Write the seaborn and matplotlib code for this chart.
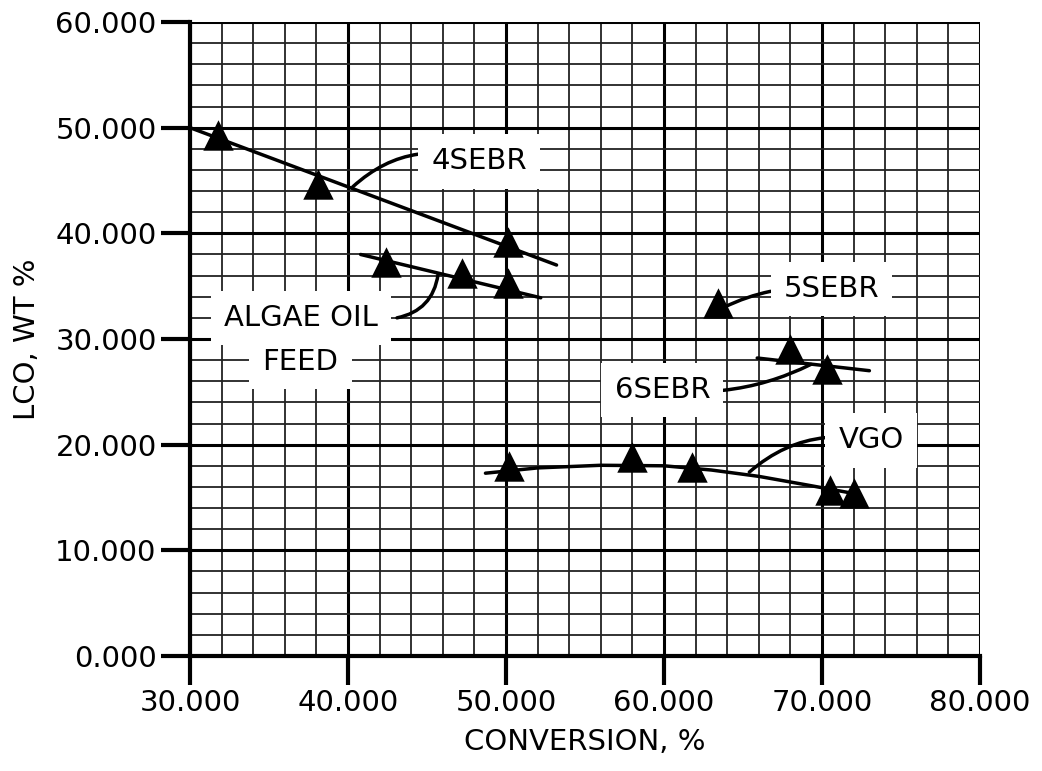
import matplotlib
matplotlib.use("Agg")
import matplotlib.pyplot as plt
import seaborn as sns
import pandas as pd
import numpy as np

# ---- data ----
sebr4_x = [31.8, 38.1, 50.1]
sebr4_y = [49.3, 44.7, 39.2]
algae_x = [42.4, 47.2, 50.1]
algae_y = [37.3, 36.2, 35.3]
sebr5_x = [63.4]
sebr5_y = [33.4]
sebr6_x = [68.0, 70.3]
sebr6_y = [29.1, 27.2]
vgo_x = [50.2, 58.0, 61.8, 70.5, 72.0]
vgo_y = [18.0, 18.8, 17.9, 15.7, 15.4]

# trend lines
trend4_x = [30.0, 53.2]
trend4_y = [50.0, 37.0]
trendA_x = [40.8, 52.2]
trendA_y = [38.0, 33.9]
trend6_x = [65.9, 73.0]
trend6_y = [28.2, 27.0]
trendV_x = [48.7, 52.0, 56.0, 60.0, 63.0, 66.0, 69.0, 72.3]
trendV_y = [17.3, 17.8, 18.05, 18.0, 17.6, 17.0, 16.2, 15.3]

xticks = [30, 40, 50, 60, 70, 80]
yticks = [0, 10, 20, 30, 40, 50, 60]

sns.set_theme(style="white")
plt.rcParams['font.family'] = ['DejaVu Sans']
plt.rcParams['text.color'] = 'black'

fig = plt.figure(figsize=(10.42, 7.71), dpi=100)
ax = fig.add_axes([190/1042, 1-656/771, 790/1042, 634/771])

pts = pd.DataFrame({
    "x": sebr4_x + algae_x + sebr5_x + sebr6_x + vgo_x,
    "y": sebr4_y + algae_y + sebr5_y + sebr6_y + vgo_y,
})
trends = pd.concat([
    pd.DataFrame({"x": trend4_x, "y": trend4_y, "g": "4SEBR"}),
    pd.DataFrame({"x": trendA_x, "y": trendA_y, "g": "ALGAE"}),
    pd.DataFrame({"x": trend6_x, "y": trend6_y, "g": "6SEBR"}),
    pd.DataFrame({"x": trendV_x, "y": trendV_y, "g": "VGO"}),
])

ax.set_xlim(30, 80)
ax.set_ylim(0, 60)
ax.set_xticks(xticks)
ax.set_yticks(yticks)
ax.set_xticks(np.arange(30, 81, 2), minor=True)
ax.set_yticks(np.arange(0, 61, 2), minor=True)
ax.grid(which="major", color="black", lw=2.2, zorder=0)
ax.grid(which="minor", color="#222222", lw=1.3, zorder=0)
ax.set_axisbelow(True)

sns.lineplot(data=trends, x="x", y="y", units="g", estimator=None, sort=False,
             color="black", lw=2.5, ax=ax, zorder=3, legend=False)
sns.scatterplot(data=pts, x="x", y="y", marker="^", s=480, color="black",
                edgecolor="black", linewidth=0, ax=ax, zorder=4, legend=False)

ax.set_xticklabels([f"{v:.3f}" for v in xticks])
ax.set_yticklabels([f"{v:.3f}" for v in yticks])
ax.tick_params(axis="both", which="major", direction="out", length=21, width=3,
               color="black", labelsize=21, labelcolor="black", pad=3,
               bottom=True, left=True)
ax.tick_params(axis="both", which="minor", length=0)
for s in ax.spines.values():
    s.set_color("black")
    s.set_linewidth(3)
ax.spines["top"].set_visible(False)
ax.spines["right"].set_visible(False)

ax.set_xlabel("CONVERSION, %", fontsize=21, color="black", labelpad=8)
ax.set_ylabel("LCO, WT %", fontsize=21, color="black", labelpad=10)

box = dict(boxstyle="square,pad=0.45", fc="white", ec="none")
arrow = lambda rad: dict(arrowstyle="-", color="black", lw=2.5,
                         connectionstyle=f"arc3,rad={rad}", shrinkA=0, shrinkB=0)
fs = 21
ax.annotate("4SEBR", xy=(40.3, 44.4), xytext=(48.3, 46.8), fontsize=fs,
            ha="center", va="center", bbox=box, arrowprops=arrow(0.3), zorder=5)
ax.text(37.0, 32.0, "ALGAE OIL", fontsize=fs, ha="center", va="center",
        bbox=box, zorder=5)
ax.text(37.0, 27.8, "FEED", fontsize=fs, ha="center", va="center",
        bbox=box, zorder=5)
ax.annotate("", xy=(45.7, 36.1), xytext=(43.1, 32.0),
            arrowprops=arrow(0.35), zorder=5)
ax.annotate("5SEBR", xy=(63.8, 33.0), xytext=(70.6, 34.7), fontsize=fs,
            ha="center", va="center", bbox=box, arrowprops=arrow(0.15), zorder=5)
ax.annotate("6SEBR", xy=(69.3, 27.6), xytext=(59.9, 25.2), fontsize=fs,
            ha="center", va="center", bbox=box, arrowprops=arrow(0.15), zorder=5)
ax.annotate("VGO", xy=(65.4, 17.4), xytext=(73.1, 20.4), fontsize=fs,
            ha="center", va="center", bbox=box, arrowprops=arrow(0.25), zorder=5)

fig.savefig("out.png", dpi=100, facecolor="white")
